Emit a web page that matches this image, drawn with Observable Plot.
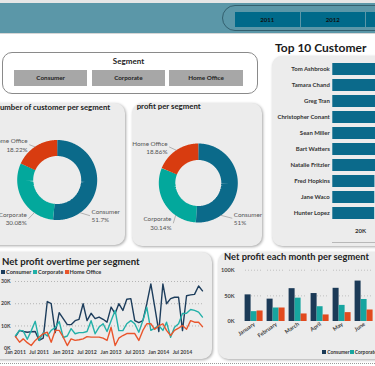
<!DOCTYPE html>
<html><head><meta charset="utf-8">
<script src="https://cdn.jsdelivr.net/npm/d3@7"></script>
<script src="https://cdn.jsdelivr.net/npm/@observablehq/plot@0.6"></script>
<style>
html,body{margin:0;padding:0;}
body{width:375px;height:366px;overflow:hidden;position:relative;background:#fff;font-family:Lato,"Open Sans",sans-serif;}
.abs{position:absolute;}
svg{max-width:none !important;}
.bold text{font-weight:700;}
</style></head><body>
<script>
// ---------- data ----------
const years = ["2011", "2012", "2013"];
const segments = ["Consumer", "Corporate", "Home Office"];
const customerShare = [51.7, 30.08, 18.22];
const profitShare = [51, 30.14, 18.86];
const topCustomers = ["Tom Ashbrook", "Tamara Chand", "Greg Tran", "Christopher Conant", "Sean Miller",
  "Bart Watters", "Natalie Fritzler", "Fred Hopkins", "Jane Waco", "Hunter Lopez"];
const topCustomerSales = [40488, 37457, 35551, 35187, 35171, 32310, 31781, 30401, 30288, 30244];
const lineTickLabels = ["Jan 2011", "Jul 2011", "Jan 2012", "Jul 2012", "Jan 2013", "Jul 2013", "Jan 2014", "Jul 2014"];
// monthly net profit (K), Jan 2011 .. Dec 2014
const consumerProfit = [5.2, 8.0, 7.5, 7.2, 7.4, 7.5, 3.5, 4.5, 21.0, 20.0, 7.0, 16.0,
  13.3, 10.6, 10.6, 12.4, 13.0, 20.0, 12.4, 15.7, 13.3, 14.0, 13.0, 11.7,
  18.5, 15.6, 20.0, 17.0, 22.0, 22.3, 12.4, 11.5, 12.4, 20.0, 28.9, 18.5,
  7.5, 28.9, 20.0, 22.3, 22.9, 22.9, 7.9, 23.6, 24.0, 24.2, 28.0, 25.8];
const corporateProfit = [5.6, 8.0, 7.8, 4.0, 7.8, 12.1, 3.5, 7.0, 5.5, 8.0, 9.3, 12.0,
  4.8, 5.5, 8.8, 6.5, 7.0, 7.0, 7.5, 12.4, 6.5, 9.5, 11.0, 7.5,
  12.4, 17.0, 7.9, 7.9, 11.0, 12.4, 11.0, 7.2, 12.4, 18.4, 8.0, 9.0,
  10.2, 8.0, 11.7, 4.9, 9.4, 11.0, 15.6, 15.7, 17.4, 17.0, 16.2, 14.0];
const homeOfficeProfit = [5.2, 2.7, 4.2, 2.5, 1.2, 3.5, 5.0, 6.5, 7.2, 2.7, 8.0, 8.0,
  5.0, 1.2, 4.2, 3.5, 3.8, 4.2, 5.2, 5.0, 5.0, 5.0, 4.5, 3.5,
  9.4, 1.2, 4.5, 5.7, 6.6, 6.6, 6.6, 3.5, 8.0, 11.0, 11.0, 8.5,
  10.0, 11.0, 8.0, 5.7, 8.0, 9.0, 10.2, 8.5, 12.4, 11.7, 11.7, 9.7];
const barMonths = ["January", "February", "March", "April", "May", "June", "July"];
const monthConsumer = [51.9, 43.6, 64.0, 54.5, 64.7, 78.8];
const monthCorporate = [19.2, 26.3, 45.5, 28.8, 31.4, 42.9];
const monthHomeOffice = [20.5, 26.3, 14.7, 12.8, 17.3, 22.4];

// ---------- styles ----------
const donutColors = ["#0b6a8a", "#03a89c", "#d83c10"];
const lineColors = ["#1d3d5c", "#22b0a8", "#e9552c"];
const barColors = ["#1b3a57", "#17a5a0", "#e24a1e"];
const FONT = "Lato, 'Open Sans', sans-serif";

const root = document.body;
function box(style, parent = root) {
  const d = document.createElement("div");
  d.className = "abs";
  Object.assign(d.style, style);
  parent.appendChild(d);
  return d;
}
function label(text, x, cy, size, opts = {}) {
  const tx = opts.anchor === "middle" ? "-50%" : opts.anchor === "end" ? "-100%" : "0";
  const d = box({left: x + "px", top: cy + "px", fontSize: size + "px", fontWeight: opts.weight || "700",
    color: opts.color || "#222", lineHeight: "1", whiteSpace: "nowrap", transform: `translate(${tx},-50%)`});
  d.textContent = text;
  return d;
}

// ---------- header ----------
box({left: "0", top: "0", width: "375px", height: "3px", background: "#e6e6e6"});
box({left: "0", top: "3px", width: "375px", height: "30px", background: "#5b97a8"});
box({left: "0", top: "33px", width: "375px", height: "1px", background: "#d6d6d6"});
box({left: "222px", top: "5px", width: "220px", height: "24px", border: "1px solid #33606f", borderRadius: "13px"});
years.forEach((y, i) => {
  const b = box({left: (235 + i * 65.5) + "px", top: "11.5px", width: "64.5px", height: "15px", background: "#006a8a",
    display: "flex", alignItems: "center", justifyContent: "center", fontSize: "6px", fontWeight: "700", color: "#111"});
  b.textContent = y;
});

// ---------- segment slicer ----------
box({left: "1.5px", top: "51.5px", width: "254px", height: "40px", border: "1px solid #8a8a8a", borderRadius: "10px", background: "#fff"});
label("Segment", 128.5, 61, 8, {anchor: "middle"});
segments.forEach((s, i) => {
  const b = box({left: (14 + i * 77.7) + "px", top: "70px", width: "73.3px", height: "15.5px", background: "#a7a7a7",
    display: "flex", alignItems: "center", justifyContent: "center", fontSize: "6.3px", fontWeight: "700", color: "#222"});
  b.textContent = s;
});

// ---------- panels ----------
const panelStyle = {background: "#ececec", borderRadius: "10px", boxShadow: "1px 1px 3px rgba(0,0,0,0.35)"};
box({left: "-12px", top: "103px", width: "137px", height: "142px", ...panelStyle});
box({left: "131.5px", top: "103px", width: "130.5px", height: "142.5px", ...panelStyle});
box({left: "272px", top: "56px", width: "120px", height: "190px", ...panelStyle});
box({left: "-12px", top: "252px", width: "224px", height: "107px", ...panelStyle});
box({left: "218px", top: "252px", width: "170px", height: "107px", ...panelStyle});
box({left: "0", top: "363px", width: "375px", height: "0", borderTop: "1px dotted #9a9a9a"});

// ---------- donuts ----------
function donutChart(values, W, H, cx, cy, R, r, layout) {
  const pie = d3.pie().sort(null)(values);
  const rm = (R + r) / 2 / R;
  const arcPts = [];
  pie.forEach((p, k) => {
    const n = Math.ceil((p.endAngle - p.startAngle) / 0.02);
    for (let j = 0; j <= n; j++) {
      const a = p.startAngle + (p.endAngle - p.startAngle) * j / n;
      arcPts.push({segment: segments[k], x: rm * Math.sin(a), y: rm * Math.cos(a)});
    }
  });
  const labels = segments.map((s, k) => ({segment: s, text: `${s}\n${values[k]}%`, ...layout[s]}));
  const leaders = [];
  labels.forEach(l => {
    const a = l.angle * Math.PI / 180;
    leaders.push({segment: l.segment, x: Math.sin(a), y: Math.cos(a)});
    leaders.push({segment: l.segment, x: l.tx + (l.anchor === "start" ? -0.05 : 0.05), y: l.ty});
  });
  const textOpts = {x: "tx", y: "ty", text: "text", fontSize: 6.3, fill: "#555", lineHeight: 1.3};
  return Plot.plot({
    width: W, height: H, margin: 0,
    style: {background: "transparent", fontFamily: FONT, overflow: "visible"},
    x: {domain: [-1, 1], range: [cx - R, cx + R], axis: null},
    y: {domain: [-1, 1], range: [cy + R, cy - R], axis: null},
    color: {domain: segments, range: donutColors},
    marks: [
      Plot.line(arcPts, {x: "x", y: "y", z: "segment", stroke: "segment", strokeWidth: R - r, strokeLinecap: "butt", strokeLinejoin: "miter"}),
      Plot.line(leaders, {x: "x", y: "y", z: "segment", stroke: "#8c8c8c", strokeWidth: 0.6}),
      Plot.text(labels.filter(d => d.anchor === "start"), {...textOpts, textAnchor: "start"}),
      Plot.text(labels.filter(d => d.anchor === "end"), {...textOpts, textAnchor: "end"})
    ]
  });
}
label("Number of customer  per segment", -6, 108, 7.8);
const d1 = box({left: "0", top: "115px", width: "126px", height: "130px"});
d1.appendChild(donutChart(customerShare, 126, 130, 56.7, 64.5, 40, 24, {
  "Consumer": {angle: 145, tx: 0.86, ty: -0.89, anchor: "start"},
  "Corporate": {angle: 215, tx: -0.76, ty: -0.96, anchor: "end"},
  "Home Office": {angle: 326, tx: -0.74, ty: 0.88, anchor: "end"}
}));
label("profit per segment", 136.7, 107, 7.8);
const d2 = box({left: "131px", top: "115px", width: "133px", height: "130px"});
d2.appendChild(donutChart(profitShare, 133, 130, 66.8, 67.5, 39.5, 23, {
  "Consumer": {angle: 145, tx: 0.9, ty: -0.89, anchor: "start"},
  "Corporate": {angle: 215, tx: -0.68, ty: -1.01, anchor: "end"},
  "Home Office": {angle: 326, tx: -0.78, ty: 0.91, anchor: "end"}
}));

// ---------- top 10 customers ----------
label("Top 10 Customer", 275, 48, 12, {color: "#1a1a1a"});
const topData = topCustomers.map((name, i) => ({name, sales: topCustomerSales[i]}));
const t10 = box({left: "272px", top: "56px", width: "140px", height: "190px"});
t10.className += " bold";
t10.appendChild(Plot.plot({
  width: 140, height: 190, marginLeft: 60.3, marginRight: 10.45, marginTop: 2.8, marginBottom: 22.7,
  style: {background: "transparent", fontFamily: FONT, fontSize: "6px", color: "#333", overflow: "visible"},
  x: {domain: [0, 50000], ticks: [20000, 40000], tickFormat: d => d / 1000 + "K", tickSize: 0, tickPadding: 5, label: null},
  y: {domain: topCustomers, padding: 0.28, tickSize: 0, tickPadding: 3, label: null},
  marks: [Plot.barX(topData, {x: "sales", y: "name", fill: "#0b6a8b"})]
}));
box({left: "332px", top: "241.5px", width: "60px", height: "1px", background: "#b8b8b8"});

// ---------- line chart ----------
label("Net profit overtime per segment", 2, 262.3, 9.6);
segments.forEach((s, i) => {
  const x = [1, 33, 64.5][i];
  box({left: x + "px", top: "269.7px", width: "4px", height: "4px", background: lineColors[i]});
  label(s, x + 5, 271.7, 5.6, {color: "#333"});
});
const months = d3.utcMonths(new Date(Date.UTC(2011, 0, 1)), new Date(Date.UTC(2015, 0, 1)));
const lineSeries = [consumerProfit, corporateProfit, homeOfficeProfit];
const lineData = [];
segments.forEach((s, k) => lineSeries[k].forEach((v, i) => lineData.push({date: months[i], value: v * 1000, segment: s})));
const lineTicks = months.filter((d, i) => i % 6 === 0);
const lc = box({left: "0", top: "274px", width: "212px", height: "86px"});
lc.className += " bold";
lc.appendChild(Plot.plot({
  width: 212, height: 86, marginLeft: 15, marginRight: 10, marginTop: 7, marginBottom: 12.3,
  style: {background: "transparent", fontFamily: FONT, fontSize: "5.2px", color: "#444", overflow: "visible"},
  x: {type: "utc", domain: [months[0], months[47]], ticks: lineTicks, tickFormat: (d, i) => lineTickLabels[i], tickSize: 0, tickPadding: 2.5, label: null},
  y: {domain: [0, 30000], ticks: [0, 10000, 20000, 30000], tickFormat: d => d / 1000 + "K", tickSize: 0, tickPadding: 5, label: null},
  color: {domain: segments, range: lineColors},
  marks: [
    Plot.ruleY([10000, 20000, 30000], {stroke: "#b5b5b5", strokeDasharray: "1,2"}),
    Plot.line(lineData, {x: "date", y: "value", z: "segment", stroke: "segment", strokeWidth: 1.4})
  ]
}));

// ---------- bar chart ----------
label("Net profit each month per segment", 224, 257.3, 9.3);
const monthSeries = [monthConsumer, monthCorporate, monthHomeOffice];
const barData = [];
monthSeries.forEach((arr, k) => arr.forEach((v, i) => barData.push({month: barMonths[i], segment: segments[k], value: v * 1000})));
const bc = box({left: "218px", top: "262px", width: "185px", height: "80px"});
bc.className += " bold";
bc.appendChild(Plot.plot({
  width: 185, height: 80, marginLeft: 25.4, marginRight: 6, marginTop: 7.7, marginBottom: 21,
  style: {background: "transparent", fontFamily: FONT, fontSize: "5.6px", color: "#444", overflow: "visible"},
  fx: {domain: barMonths, padding: 0.2, label: null, tickRotate: -35, tickSize: 0, tickPadding: 2},
  x: {domain: segments, padding: 0, axis: null},
  y: {domain: [0, 100000], ticks: [0, 50000, 100000], tickFormat: d => d / 1000 + "K", tickSize: 0, tickPadding: 11, label: null},
  color: {domain: segments, range: barColors},
  marks: [
    Plot.ruleY([50000, 100000], {stroke: "#c0c0c0", strokeDasharray: "1,2"}),
    Plot.barY(barData, {fx: "month", x: "segment", y: "value", fill: "segment"})
  ]
}));
segments.slice(0, 2).forEach((s, i) => {
  const x = [322.3, 349.8][i];
  box({left: x + "px", top: "349.7px", width: "4px", height: "4px", background: barColors[i]});
  label(s, x + 5, 351.7, 4.9, {color: "#333"});
});
</script>
</body></html>
